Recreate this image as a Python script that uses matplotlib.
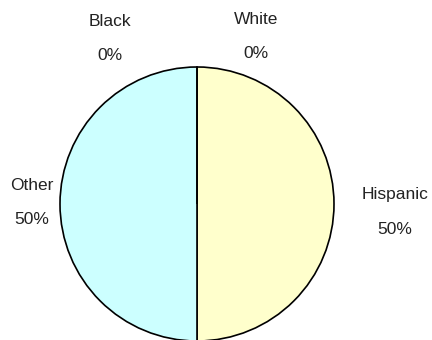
import matplotlib.pyplot as plt

# Data
labels = ["White", "Hispanic", "Other", "Black"]
shares = [0, 50, 50, 0]
colors = ["#FFFFFF", "#FFFFCC", "#CCFFFF", "#FFFFFF"]

# label anchor points (pixel coords, y measured from top)
label_pos = {
    "White": (256, 19),
    "Hispanic": (395, 195),
    "Other": (32, 186),
    "Black": (110, 21),
}
pct_gap = 34

W, H = 432, 340
fig = plt.figure(figsize=(W / 100, H / 100), dpi=100)
ax = fig.add_axes([0, 0, 1, 1])
ax.set_xlim(0, W)
ax.set_ylim(0, H)
ax.set_aspect("equal")
ax.axis("off")

ax.pie(shares, colors=colors, startangle=90, counterclock=False,
       center=(197, H - 204), radius=137, frame=True,
       wedgeprops=dict(edgecolor="black", linewidth=1.2))
ax.set_xlim(0, W)
ax.set_ylim(0, H)
ax.axis("off")

font = dict(family="Liberation Sans", fontsize=12.5, color="#222222",
            ha="center", va="center")
for lab, val in zip(labels, shares):
    x, y = label_pos[lab]
    ax.text(x, H - y, lab, **font)
    ax.text(x, H - y - pct_gap, f"{val}%", **font)

fig.savefig("out.png", dpi=100)
